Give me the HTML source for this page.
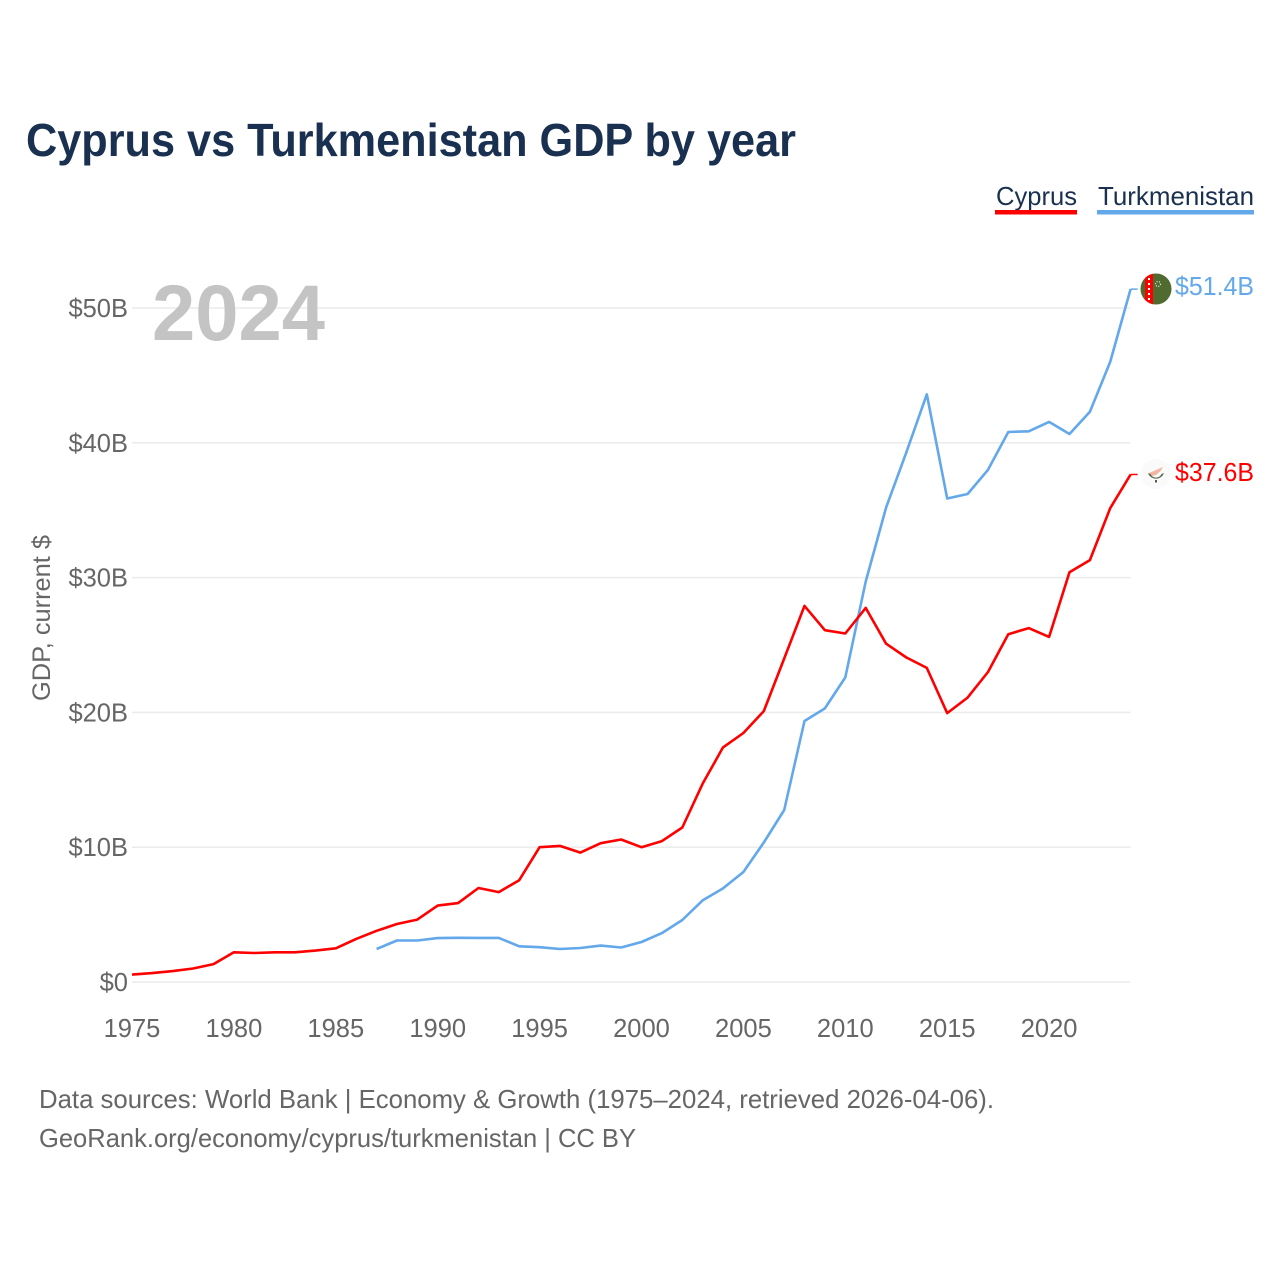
<!DOCTYPE html>
<html lang="en">
<head>
<meta charset="utf-8">
<title>Cyprus vs Turkmenistan GDP by year</title>
<style>
html,body{margin:0;padding:0;background:#fff;width:1280px;height:1280px;overflow:hidden}
svg{display:block;font-family:"Liberation Sans",sans-serif}
</style>
</head>
<body>
<svg id="chart" xmlns="http://www.w3.org/2000/svg" width="1280" height="1280" viewBox="0 0 1280 1280">
  <defs>
    <clipPath id="flag-clip-tm"><circle cx="1156" cy="289" r="15.5"/></clipPath>
  </defs>
  <rect width="1280" height="1280" fill="#fff"/>
  <text x="26" y="156" font-size="46" font-weight="700" fill="#1a3050" textLength="770" lengthAdjust="spacingAndGlyphs">Cyprus vs Turkmenistan GDP by year</text>

  <text x="996" y="205" font-size="26" fill="#1a3050" textLength="81" lengthAdjust="spacingAndGlyphs">Cyprus</text>
  <rect x="995" y="210" width="82" height="4.5" fill="#ff0000"/>
  <text x="1098" y="205" font-size="26" fill="#1a3050" textLength="156" lengthAdjust="spacingAndGlyphs">Turkmenistan</text>
  <rect x="1097" y="210" width="157" height="4.5" fill="#62a8ea"/>

  <g id="grid"></g>
  <text x="152" y="340" font-size="79" font-weight="700" fill="#c4c4c4" textLength="173" lengthAdjust="spacingAndGlyphs">2024</text>
  <g id="yticks"></g>
  <g id="xticks"></g>
  <text transform="translate(50,701) rotate(-90)" font-size="25" fill="#666" textLength="166" lengthAdjust="spacingAndGlyphs">GDP, current $</text>
  <g id="series"></g>

  <g>
    <circle cx="1156" cy="289" r="15.5" fill="#4f6b2f"/>
    <rect x="1145" y="272" width="8" height="34" fill="#ff0000" clip-path="url(#flag-clip-tm)"/>
    <path d="M1149 278v22" stroke="#fff" stroke-width="2" stroke-dasharray="2 3"/>
    <path d="M1165 281 A6.5 6.5 0 1 1 1158 293 A5.500 5.500 0 0 0 1165 281 Z" fill="#e8eee0"/>
    <circle cx="1158" cy="284" r="2.500" fill="none" stroke="#e8eee0" stroke-width="1.2" stroke-dasharray="1 1.500"/>
  </g>
  <g>
    <circle cx="1156" cy="474" r="15" fill="#fafafa"/>
    <path d="M1149 473 L1155 470.500 L1163 467 L1160.500 471 L1156 475 L1152 476 Z" fill="#f3b5a2"/>
    <path d="M1148 473 A8.500 8.500 0 0 0 1164 473 L1161.500 474 A6 6 0 0 1 1150.500 474 Z" fill="#4f6349"/>
    <path d="M1156 480v2.500" stroke="#4f6349" stroke-width="2"/>
  </g>

  <text x="1175" y="295" font-size="26" fill="#62a8ea" textLength="79" lengthAdjust="spacingAndGlyphs">$51.4B</text>
  <text x="1175" y="481" font-size="26" fill="#ff0000" textLength="79" lengthAdjust="spacingAndGlyphs">$37.6B</text>

  <text x="39" y="1108" font-size="26" fill="#666" textLength="955" lengthAdjust="spacingAndGlyphs">Data sources: World Bank | Economy &amp; Growth (1975–2024, retrieved 2026-04-06).</text>
  <text x="39" y="1147" font-size="26" fill="#666" textLength="597" lengthAdjust="spacingAndGlyphs">GeoRank.org/economy/cyprus/turkmenistan | CC BY</text>
</svg>
<script>
const cyprusStartYear = 1975;
const cyprusValues = [0.55,0.66,0.81,1.0,1.33,2.2,2.15,2.2,2.2,2.33,2.5,3.2,3.8,4.3,4.63,5.67,5.85,6.97,6.67,7.55,10.0,10.1,9.6,10.3,10.57,10.0,10.45,11.46,14.7,17.4,18.47,20.1,24.0,27.9,26.1,25.85,27.75,25.1,24.07,23.3,19.95,21.1,23.0,25.8,26.25,25.6,30.4,31.3,35.15,37.65];
const turkmenistanStartYear = 1987;
const turkmenistanValues = [2.45,3.08,3.08,3.26,3.28,3.27,3.27,2.65,2.58,2.45,2.52,2.7,2.56,2.97,3.63,4.6,6.05,6.94,8.16,10.35,12.76,19.36,20.3,22.6,29.7,35.2,39.3,43.6,35.87,36.2,38.0,40.8,40.85,41.55,40.65,42.3,46.0,51.4];
const yTickValues = [0,10,20,30,40,50];
const yTickLabels = ["$0","$10B","$20B","$30B","$40B","$50B"];
const xTickYears = [1975,1980,1985,1990,1995,2000,2005,2010,2015,2020];

const NS = "http://www.w3.org/2000/svg";
function xScale(year){ return 132 + (year - 1975) * 20.38; }
function yScale(value){ return 982 - value * 13.48; }

const grid = document.getElementById("grid");
const yticks = document.getElementById("yticks");
const xticks = document.getElementById("xticks");
const series = document.getElementById("series");

yTickValues.forEach(function(v, i){
  const line = document.createElementNS(NS, "line");
  
  
  line.setAttribute("x1", 132);
  line.setAttribute("x2", xScale(2024));
  line.setAttribute("y1", yScale(v));
  line.setAttribute("y2", yScale(v));
  line.setAttribute("stroke", "#ebebeb");
  line.setAttribute("stroke-width", "1.5");
  grid.appendChild(line);
  const t = document.createElementNS(NS, "text");
  
  
  t.setAttribute("x", 128);
  t.setAttribute("y", yScale(v) + 9);
  t.setAttribute("text-anchor", "end");
  t.setAttribute("font-size", "25.5");
  t.setAttribute("fill", "#666");
  t.textContent = yTickLabels[i];
  yticks.appendChild(t);
});

xTickYears.forEach(function(y){
  const t = document.createElementNS(NS, "text");
  
  
  t.setAttribute("x", xScale(y));
  t.setAttribute("y", 1037);
  t.setAttribute("text-anchor", "middle");
  t.setAttribute("font-size", "25.5");
  t.setAttribute("fill", "#666");
  t.textContent = String(y);
  xticks.appendChild(t);
});

function linePoints(startYear, values){
  return values.map(function(v, i){
    return xScale(startYear + i).toFixed(1) + "," + yScale(v).toFixed(1);
  }).join(" ");
}

const turkLine = document.createElementNS(NS, "polyline");


turkLine.setAttribute("points", linePoints(turkmenistanStartYear, turkmenistanValues));
turkLine.setAttribute("fill", "none");
turkLine.setAttribute("stroke", "#62a8ea");
turkLine.setAttribute("stroke-width", "2.6");
turkLine.setAttribute("stroke-linejoin", "round");
series.appendChild(turkLine);

const cyprusLine = document.createElementNS(NS, "polyline");


cyprusLine.setAttribute("points", linePoints(cyprusStartYear, cyprusValues));
cyprusLine.setAttribute("fill", "none");
cyprusLine.setAttribute("stroke", "#ff0000");
cyprusLine.setAttribute("stroke-width", "2.6");
cyprusLine.setAttribute("stroke-linejoin", "round");
series.appendChild(cyprusLine);

const turkStub = document.createElementNS(NS, "line");


turkStub.setAttribute("x1", xScale(2024));
turkStub.setAttribute("x2", xScale(2024) + 7);
turkStub.setAttribute("y1", yScale(turkmenistanValues[turkmenistanValues.length - 1]));
turkStub.setAttribute("y2", yScale(turkmenistanValues[turkmenistanValues.length - 1]));
turkStub.setAttribute("stroke", "#62a8ea");
turkStub.setAttribute("stroke-width", "1.5");
series.appendChild(turkStub);

const cyprusStub = document.createElementNS(NS, "line");


cyprusStub.setAttribute("x1", xScale(2024));
cyprusStub.setAttribute("x2", xScale(2024) + 7);
cyprusStub.setAttribute("y1", yScale(cyprusValues[cyprusValues.length - 1]));
cyprusStub.setAttribute("y2", yScale(cyprusValues[cyprusValues.length - 1]));
cyprusStub.setAttribute("stroke", "#ff0000");
cyprusStub.setAttribute("stroke-width", "1.5");
series.appendChild(cyprusStub);
</script>
</body>
</html>
